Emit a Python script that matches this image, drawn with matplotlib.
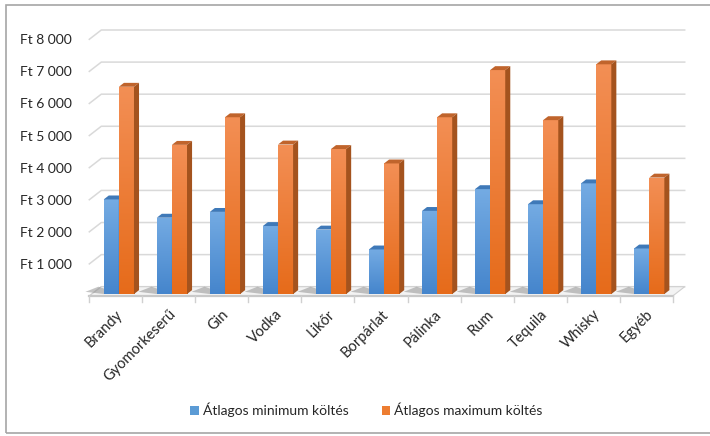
import numpy as np
import matplotlib
matplotlib.use("Agg")
import matplotlib.pyplot as plt
from matplotlib.patches import Polygon, Rectangle, Patch
from matplotlib.colors import LinearSegmentedColormap

# ---- data -------------------------------------------------------------
categories = ["Brandy", "Gyomorkeserű", "Gin", "Vodka", "Likőr", "Borpárlat",
              "Pálinka", "Rum", "Tequila", "Whisky", "Egyéb"]
min_spend = [2950, 2380, 2560, 2120, 2010, 1390, 2590, 3270, 2800, 3450, 1420]
max_spend = [6460, 4650, 5510, 4660, 4520, 4070, 5510, 6980, 5420, 7160, 3630]
series_names = ["Átlagos minimum költés", "Átlagos maximum költés"]
y_ticks = [1000, 2000, 3000, 4000, 5000, 6000, 7000, 8000]
y_tick_labels = ["Ft 1 000", "Ft 2 000", "Ft 3 000", "Ft 4 000",
                 "Ft 5 000", "Ft 6 000", "Ft 7 000", "Ft 8 000"]

plt.rcParams["font.family"] = ["Lato", "DejaVu Sans"]

W, H = 710, 436
fig = plt.figure(figsize=(W / 100, H / 100), dpi=100)
fig.patch.set_facecolor("white")

# front plane of the floor, in pixels
x_left, x_right = 89.3, 672.7
y_top, y_bottom = 39.3, 296.0
ax = fig.add_axes([x_left / W, (H - y_bottom) / H,
                   (x_right - x_left) / W, (y_bottom - y_top) / H])
xmin, xmax, ymin, ymax = -0.5, len(categories) - 0.5, 0, 8000
ax.set_xlim(xmin, xmax)
ax.set_ylim(ymin, ymax)
for s in ax.spines.values():
    s.set_visible(False)

# depth direction of the 3-D box, in pixels (right, up)
px_x = (x_right - x_left) / (xmax - xmin)
px_y = (y_bottom - y_top) / (ymax - ymin)
DXd = 12.0 / px_x
DYd = 9.3 / px_y


def P(x, v, d):
    return (x + d * DXd, v + d * DYd)


grid_col = "#d9d9d9"
# back wall gridlines with their left diagonals
for v in [0] + y_ticks:
    xs, ys = zip(P(xmin, v, 0), P(xmin, v, 1), P(xmax, v, 1))
    ax.plot(xs, ys, color=grid_col, lw=1.1, clip_on=False, zorder=1)

# floor
floor = Polygon([P(xmin, 0, 0), P(xmax, 0, 0), P(xmax, 0, 1), P(xmin, 0, 1)],
                closed=True, facecolor="#f3f3f3", edgecolor="#d0d0d0",
                lw=0.8, clip_on=False, zorder=2)
ax.add_patch(floor)
# front edge of the floor slab and category separators
ax.plot([xmin, xmax], [0, 0], color="#c8c8c8", lw=1.6, clip_on=False, zorder=3)
for b in np.arange(xmin, xmax + 0.01, 1.0):
    ax.plot([b, b], [0, -5.5 / px_y], color="#d0d0d0", lw=1.0,
            clip_on=False, zorder=3)

blue_cmap = LinearSegmentedColormap.from_list("b", ["#4585cc", "#74abe3"])
orange_cmap = LinearSegmentedColormap.from_list("o", ["#e66b1a", "#f38f55"])
grad = np.linspace(0, 1, 256).reshape(-1, 1)

d0, d1 = 0.21, 0.63
w = 0.285
off = 0.01


def draw_bar(x0, x1, v, cmap, cap_col, side_col, z, shadow=True):
    if shadow:
        # cast shadow on the floor, behind and to the left of the pair
        sh = Polygon([P(x0, 0, d0), P(x0, 0, d1), P(x0 - 0.28, 0, 1.0),
                      P(x0 - 0.40, 0, 0.45)],
                     closed=True, facecolor="#8a8a8a", edgecolor="none",
                     alpha=0.5, clip_on=False, zorder=z - 1)
        ax.add_patch(sh)
    # front face with vertical gradient
    fx0, fy0 = P(x0, 0, d0)
    fx1, fy1 = P(x1, v, d0)
    rect = Rectangle((fx0, fy0), fx1 - fx0, fy1 - fy0, facecolor="none",
                     edgecolor="none", clip_on=False, zorder=z)
    ax.add_patch(rect)
    im = ax.imshow(grad, cmap=cmap, origin="lower", aspect="auto",
                   extent=[fx0, fx1, fy0, fy1], interpolation="bilinear",
                   zorder=z)
    im.set_clip_path(rect)
    # top cap
    ax.add_patch(Polygon([P(x0, v, d0), P(x1, v, d0), P(x1, v, d1), P(x0, v, d1)],
                         closed=True, facecolor=cap_col, edgecolor="none",
                         clip_on=False, zorder=z + 0.1))
    # right side face
    ax.add_patch(Polygon([P(x1, 0, d0), P(x1, v, d0), P(x1, v, d1), P(x1, 0, d1)],
                         closed=True, facecolor=side_col, edgecolor="none",
                         clip_on=False, zorder=z + 0.1))


for i, (vmin, vmax) in enumerate(zip(min_spend, max_spend)):
    z = 5 + i
    draw_bar(i - w + off, i + off, vmin, blue_cmap, "#3f79b8", "#2f5f93", z)
    draw_bar(i + off, i + w + off, vmax, orange_cmap, "#c0642c", "#a4531e",
             z + 0.3, shadow=False)

ax.set_xlim(xmin, xmax)
ax.set_ylim(ymin, ymax)

# axis labels
ax.set_yticks(y_ticks, y_tick_labels)
ax.tick_params(axis="y", length=0, pad=12.5, labelsize=10, labelcolor="#262626")
ax.set_xticks(range(len(categories)), categories)
ax.tick_params(axis="x", length=0, pad=8, labelsize=10.5, labelcolor="#262626")
for lab in ax.get_xticklabels():
    lab.set_rotation(45)
    lab.set_ha("right")
    lab.set_rotation_mode("anchor")

# legend
handles = [Patch(facecolor="#5b9bd5"), Patch(facecolor="#ed7d31")]
fig.legend(handles, series_names, loc="center",
           bbox_to_anchor=(366.5 / W, 1 - 410 / H), ncol=2, frameon=False,
           handlelength=0.6, handleheight=0.6, handletextpad=0.3,
           columnspacing=2.4, fontsize=10, labelcolor="#262626")

# chart area border
fig.add_artist(Rectangle((5.5 / W, 3.5 / H), (W + 10) / W, (H - 9) / H,
                         transform=fig.transFigure, facecolor="none",
                         edgecolor="#a6a6a6", lw=1.2, zorder=0))

fig.savefig("out.png", dpi=100)
